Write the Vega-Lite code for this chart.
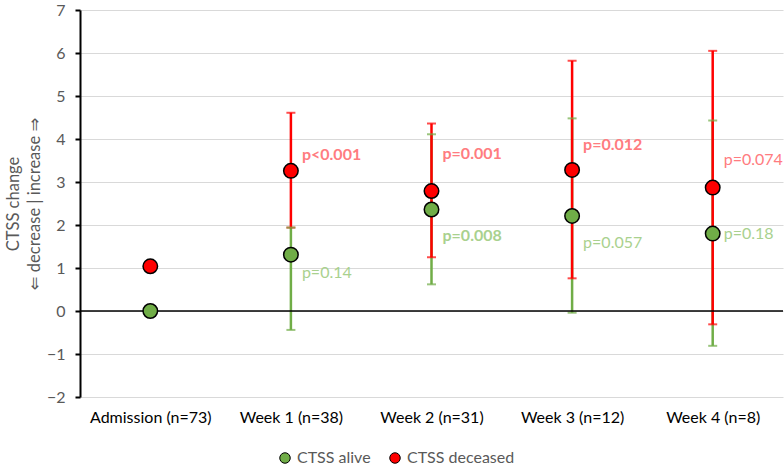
{
  "$schema": "https://vega.github.io/schema/vega-lite/v6.json",
  "width": 703,
  "height": 387,
  "autosize": {"type": "none"},
  "padding": {"left": 80, "top": 10, "right": 1, "bottom": 69},
  "config": {"font": "Lato, DejaVu Sans", "view": {"stroke": null}},
  "resolve": {"scale": {"color": "independent"}, "legend": {"color": "independent"}},
  "datasets": {
    "pts": [
      {"time": "Admission (n=73)", "group": "CTSS alive", "mean": 0.0, "lo": null, "hi": null},
      {"time": "Admission (n=73)", "group": "CTSS deceased", "mean": 1.04, "lo": null, "hi": null},
      {"time": "Week 1 (n=38)", "group": "CTSS alive", "mean": 1.31, "lo": -0.44, "hi": 1.94},
      {"time": "Week 1 (n=38)", "group": "CTSS deceased", "mean": 3.26, "lo": 1.94, "hi": 4.61},
      {"time": "Week 2 (n=31)", "group": "CTSS alive", "mean": 2.36, "lo": 0.62, "hi": 4.11},
      {"time": "Week 2 (n=31)", "group": "CTSS deceased", "mean": 2.79, "lo": 1.25, "hi": 4.36},
      {"time": "Week 3 (n=12)", "group": "CTSS alive", "mean": 2.21, "lo": -0.04, "hi": 4.48},
      {"time": "Week 3 (n=12)", "group": "CTSS deceased", "mean": 3.28, "lo": 0.76, "hi": 5.82},
      {"time": "Week 4 (n=8)", "group": "CTSS alive", "mean": 1.80, "lo": -0.81, "hi": 4.43},
      {"time": "Week 4 (n=8)", "group": "CTSS deceased", "mean": 2.87, "lo": -0.31, "hi": 6.05}
    ],
    "pvals": [
      {"time": "Week 1 (n=38)", "group": "CTSS deceased", "label": "p<0.001", "p": 0.0009, "ly": 3.62},
      {"time": "Week 1 (n=38)", "group": "CTSS alive", "label": "p=0.14", "p": 0.14, "ly": 0.88},
      {"time": "Week 2 (n=31)", "group": "CTSS deceased", "label": "p=0.001", "p": 0.001, "ly": 3.66},
      {"time": "Week 2 (n=31)", "group": "CTSS alive", "label": "p=0.008", "p": 0.008, "ly": 1.74},
      {"time": "Week 3 (n=12)", "group": "CTSS deceased", "label": "p=0.012", "p": 0.012, "ly": 3.86},
      {"time": "Week 3 (n=12)", "group": "CTSS alive", "label": "p=0.057", "p": 0.057, "ly": 1.58},
      {"time": "Week 4 (n=8)", "group": "CTSS deceased", "label": "p=0.074", "p": 0.074, "ly": 3.51},
      {"time": "Week 4 (n=8)", "group": "CTSS alive", "label": "p=0.18", "p": 0.18, "ly": 1.79}
    ]
  },
  "layer": [
    {
      "data": {"name": "pts"},
      "mark": {"type": "rule", "strokeWidth": 2.5},
      "encoding": {
        "x": {
          "field": "time", "type": "nominal",
          "scale": {"type": "point", "padding": 0.5, "domain": ["Admission (n=73)", "Week 1 (n=38)", "Week 2 (n=31)", "Week 3 (n=12)", "Week 4 (n=8)"]},
          "axis": {"title": null, "domain": false, "ticks": false, "grid": false, "labelAngle": 0, "labelColor": "#000000", "labelFontSize": 16, "labelPadding": 12}
        },
        "y": {
          "field": "lo", "type": "quantitative",
          "scale": {"domain": [-2, 7], "nice": false, "zero": false},
          "axis": {
            "title": ["CTSS change", "⇐ decrease | increase ⇒"],
            "titleColor": "#595959", "titleFontSize": 16.5, "titleFontWeight": "normal", "titleLineHeight": 21, "titlePadding": 4,
            "values": [-2, -1, 0, 1, 2, 3, 4, 5, 6, 7],
            "grid": true, "gridColor": "#D9D9D9", "gridWidth": 1,
            "domainColor": "#000000", "domainWidth": 2,
            "tickColor": "#000000", "tickWidth": 2, "tickSize": 5,
            "labelColor": "#595959", "labelFontSize": 16, "labelPadding": 10
          }
        },
        "y2": {"field": "hi"},
        "color": {
          "field": "group", "type": "nominal",
          "scale": {"domain": ["CTSS alive", "CTSS deceased"], "range": ["#70AD47", "#FF0000"]},
          "legend": null
        }
      }
    },
    {
      "data": {"name": "pts"},
      "mark": {"type": "tick", "size": 9, "thickness": 2},
      "encoding": {
        "x": {"field": "time", "type": "nominal"},
        "y": {"field": "lo", "type": "quantitative"},
        "color": {"field": "group", "type": "nominal", "scale": {"domain": ["CTSS alive", "CTSS deceased"], "range": ["#70AD47", "#FF0000"]}, "legend": null}
      }
    },
    {
      "data": {"name": "pts"},
      "mark": {"type": "tick", "size": 9, "thickness": 2},
      "encoding": {
        "x": {"field": "time", "type": "nominal"},
        "y": {"field": "hi", "type": "quantitative"},
        "color": {"field": "group", "type": "nominal", "scale": {"domain": ["CTSS alive", "CTSS deceased"], "range": ["#70AD47", "#FF0000"]}, "legend": null}
      }
    },
    {
      "data": {"values": [{"zero": 0}]},
      "mark": {"type": "rule", "color": "#000000", "strokeWidth": 1.5},
      "encoding": {"y": {"field": "zero", "type": "quantitative"}}
    },
    {
      "data": {"name": "pts"},
      "mark": {"type": "point", "shape": "circle", "filled": true, "size": 210, "stroke": "#000000", "strokeWidth": 1.5, "opacity": 1},
      "encoding": {
        "x": {"field": "time", "type": "nominal"},
        "y": {"field": "mean", "type": "quantitative"},
        "color": {
          "field": "group", "type": "nominal",
          "scale": {"domain": ["CTSS alive", "CTSS deceased"], "range": ["#70AD47", "#FF0000"]},
          "legend": {
            "title": null, "orient": "none", "legendX": 197, "legendY": 440, "direction": "horizontal",
            "labelColor": "#595959", "labelFontSize": 16, "symbolType": "circle", "symbolSize": 110,
            "symbolStrokeColor": "#000000", "symbolStrokeWidth": 1, "symbolOpacity": 1, "columnPadding": 16, "labelOffset": 4
          }
        }
      }
    },
    {
      "data": {"name": "pvals"},
      "transform": [{"filter": "datum.p < 0.05"}],
      "mark": {"type": "text", "align": "left", "baseline": "middle", "dx": 11, "fontSize": 16, "fontWeight": "bold"},
      "encoding": {
        "x": {"field": "time", "type": "nominal"},
        "y": {"field": "ly", "type": "quantitative"},
        "text": {"field": "label"},
        "color": {"field": "group", "type": "nominal", "scale": {"domain": ["CTSS alive", "CTSS deceased"], "range": ["#A9D18E", "#FF7C80"]}, "legend": null}
      }
    },
    {
      "data": {"name": "pvals"},
      "transform": [{"filter": "datum.p >= 0.05"}],
      "mark": {"type": "text", "align": "left", "baseline": "middle", "dx": 11, "fontSize": 16, "fontWeight": "normal"},
      "encoding": {
        "x": {"field": "time", "type": "nominal"},
        "y": {"field": "ly", "type": "quantitative"},
        "text": {"field": "label"},
        "color": {"field": "group", "type": "nominal", "scale": {"domain": ["CTSS alive", "CTSS deceased"], "range": ["#A9D18E", "#FF7C80"]}, "legend": null}
      }
    }
  ]
}
